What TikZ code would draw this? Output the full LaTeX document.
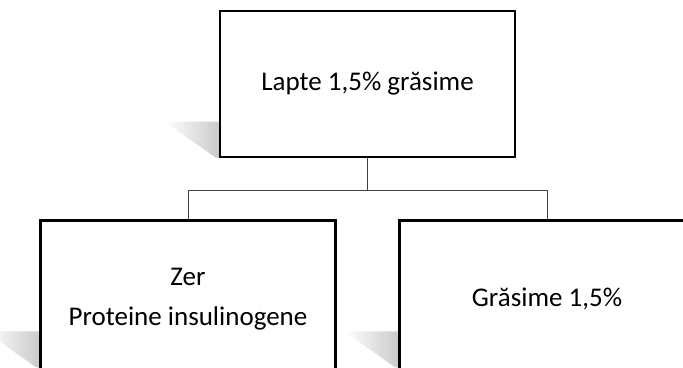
\documentclass[tikz,border=0pt]{standalone}
\usepackage{fontspec}
\setmainfont{Carlito}
\usetikzlibrary{backgrounds}
\begin{document}
\begin{tikzpicture}[x=1pt,y=1pt,
	box/.style={draw=black,line width=2.5pt,fill=white,minimum width=295pt,minimum height=146pt,inner sep=0pt,align=center,font=\fontsize{27}{40}\selectfont},
	link/.style={draw=black!75,line width=0.9pt},
	shadowwedge/.style={left color=white,right color=black!22,draw=none}]
		\useasboundingbox (0,0) rectangle (683,367);
		\clip (0,0) rectangle (683,367);
		\node[box] (milk) at (367.5,283) {\raisebox{-4pt}{Lapte 1,5\% grăsime}};
		\node[box,minimum height=156pt] (whey) at (188,68.3) {Zer\\Proteine insulinogene};
		\node[box,minimum height=156pt] (fat) at (547,68.3) {Grăsime 1,5\%};
		\coordinate (bus) at (367.5,176.3);
		\draw[link] (milk.south) -- (bus);
		\draw[link] (bus) -| (whey.north);
		\draw[link] (bus) -| (fat.north);
		\begin{scope}[on background layer]
		\foreach \b in {milk,whey,fat}
			\shade[shadowwedge] ([shift={(-54,-112)}]\b.north west) -- ([shift={(4,-112)}]\b.north west)
				-- ([shift={(4,-148)}]\b.north west) -- ([shift={(-3,-148)}]\b.north west) -- cycle;
		\end{scope}
\end{tikzpicture}
\end{document}
